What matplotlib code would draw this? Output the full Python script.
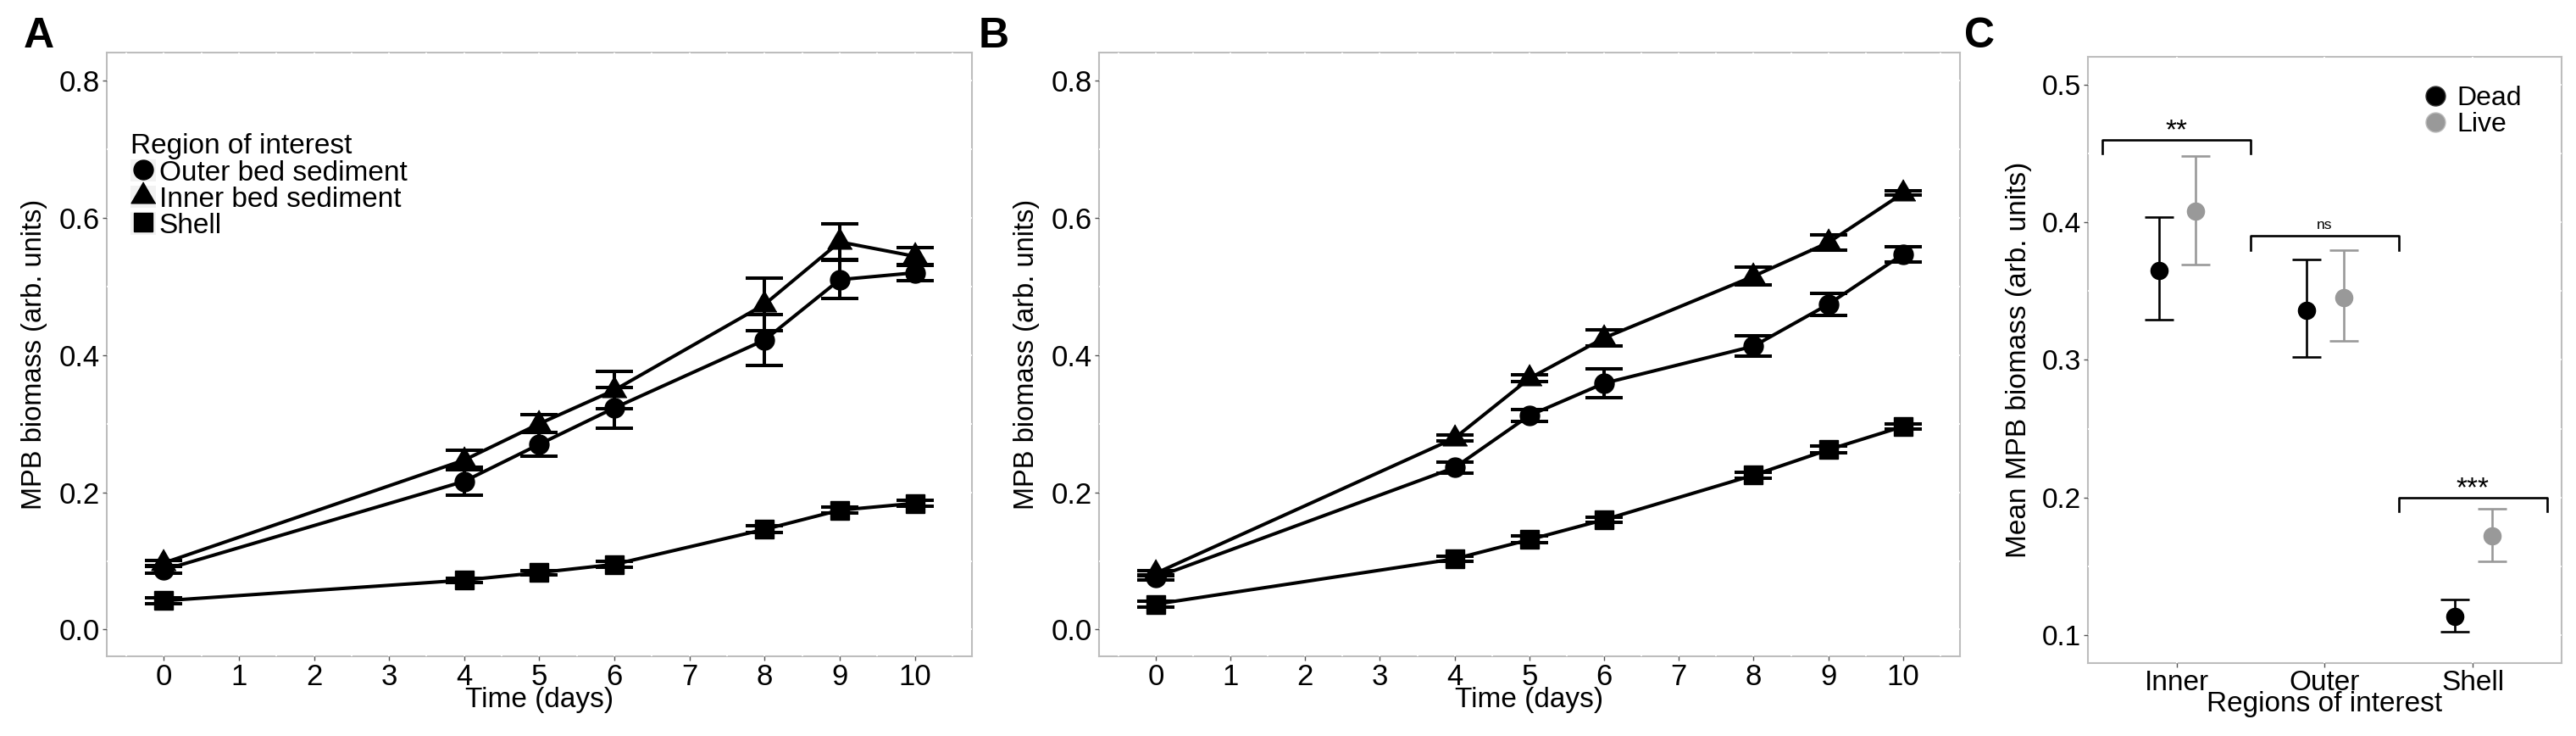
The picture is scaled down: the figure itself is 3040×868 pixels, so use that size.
import numpy as np
import matplotlib.pyplot as plt
from matplotlib.lines import Line2D
from matplotlib.patches import Patch
from matplotlib.ticker import MultipleLocator

plt.rcParams['font.family'] = ['Liberation Sans', 'DejaVu Sans']

days = [0, 4, 5, 6, 8, 9, 10]
region_names = ['Outer bed sediment', 'Inner bed sediment', 'Shell']

# panel A
a_outer = [0.087, 0.216, 0.270, 0.323, 0.422, 0.510, 0.520]
a_outer_se = [0.005, 0.020, 0.017, 0.030, 0.037, 0.028, 0.012]
a_inner = [0.097, 0.247, 0.300, 0.349, 0.474, 0.565, 0.544]
a_inner_se = [0.004, 0.014, 0.013, 0.027, 0.038, 0.026, 0.013]
a_shell = [0.042, 0.072, 0.083, 0.095, 0.146, 0.174, 0.184]
a_shell_se = [0.004, 0.003, 0.003, 0.004, 0.005, 0.004, 0.004]

# panel B
b_outer = [0.076, 0.236, 0.312, 0.359, 0.413, 0.474, 0.547]
b_outer_se = [0.004, 0.008, 0.009, 0.021, 0.015, 0.016, 0.011]
b_inner = [0.082, 0.279, 0.366, 0.425, 0.515, 0.564, 0.636]
b_inner_se = [0.004, 0.004, 0.005, 0.012, 0.013, 0.011, 0.003]
b_shell = [0.037, 0.103, 0.131, 0.160, 0.225, 0.262, 0.296]
b_shell_se = [0.004, 0.004, 0.005, 0.004, 0.004, 0.005, 0.004]

# panel C
c_regions = ['Inner', 'Outer', 'Shell']
c_dead = [0.365, 0.336, 0.114]
c_dead_lo = [0.329, 0.302, 0.103]
c_dead_hi = [0.404, 0.373, 0.126]
c_live = [0.408, 0.345, 0.172]
c_live_lo = [0.369, 0.314, 0.154]
c_live_hi = [0.448, 0.380, 0.192]
sig_labels = ['**', 'ns', '***']
sig_heights = [0.460, 0.390, 0.200]

# equilateral triangle like R's pch 17
tri = [(0, 1), (-0.866, -0.5), (0.866, -0.5)]
markers = ['o', tri, 's']
msizes = [16.5, 24, 16.5]

fig = plt.figure(figsize=(30.4, 8.68), dpi=100)
axA = fig.add_axes([0.0414, 0.1083, 0.3359, 0.8203])
axB = fig.add_axes([0.4266, 0.1083, 0.3342, 0.8203])
axC = fig.add_axes([0.8105, 0.0991, 0.1839, 0.8237])

border = '#bdbdbd'


def style(ax, size):
    # ggplot-like: light grey border, white grid that only shows where it crosses the border
    for s in ax.spines.values():
        s.set_color(border)
        s.set_linewidth(1.5)
        s.set_zorder(0.3)
    ax.set_axisbelow(True)
    ax.grid(True, which='both', color='white', lw=1.3)
    ax.tick_params(which='minor', length=0)
    ax.tick_params(length=3.5, width=1, color='#555555', labelsize=size, pad=2,
                   labelcolor='black')


def timecourse(ax, series, errs):
    for vals, se, m, ms in zip(series, errs, markers, msizes):
        ax.plot(days, vals, color='black', lw=2.9, zorder=2)
        ax.errorbar(days, vals, yerr=se, fmt='none', ecolor='black',
                    elinewidth=2.9, capsize=15.5, capthick=2.9, zorder=3)
        ax.plot(days, vals, ls='none', marker=m, ms=ms, color='black',
                mec='black', zorder=4)
    ax.set_xlim(-0.76, 10.76)
    ax.set_ylim(-0.039, 0.841)
    ax.set_xticks(range(0, 11))
    ax.xaxis.set_minor_locator(MultipleLocator(0.5))
    ax.set_yticks([0.0, 0.2, 0.4, 0.6, 0.8])
    ax.set_yticklabels(['0.0', '0.2', '0.4', '0.6', '0.8'])
    ax.yaxis.set_minor_locator(MultipleLocator(0.1))
    ax.set_xlabel('Time (days)', fontsize=24, labelpad=-3)
    ax.set_ylabel('MPB biomass (arb. units)', fontsize=23.5, labelpad=10)
    style(ax, 25)


timecourse(axA, [a_outer, a_inner, a_shell], [a_outer_se, a_inner_se, a_shell_se])
timecourse(axB, [b_outer, b_inner, b_shell], [b_outer_se, b_inner_se, b_shell_se])

handles = []
for m, ms in zip(markers, msizes):
    key = Patch(facecolor='#f2f2f2', edgecolor='none')
    mk = Line2D([], [], ls='none', marker=m, ms=ms, color='black')
    handles.append((key, mk))
leg = axA.legend(handles, region_names, title='Region of interest',
                 loc='upper left', bbox_to_anchor=(0.028, 0.866),
                 frameon=False, fontsize=24, title_fontsize=24,
                 handlelength=0.9, handleheight=0.85, handletextpad=0.1,
                 labelspacing=-0.02, borderpad=0, borderaxespad=0,
                 alignment='left')

# panel C
xc = np.arange(len(c_regions))
dead = np.array(c_dead)
live = np.array(c_live)
axC.errorbar(xc - 0.12, dead, yerr=[dead - c_dead_lo, np.array(c_dead_hi) - dead],
             fmt='o', color='black', ms=14.5, elinewidth=1.9, capsize=12,
             capthick=1.9, zorder=3)
axC.errorbar(xc + 0.13, live, yerr=[live - c_live_lo, np.array(c_live_hi) - live],
             fmt='o', color='#999999', ms=14.5, elinewidth=1.9, capsize=12,
             capthick=1.9, zorder=3)
for i, (lab, h) in enumerate(zip(sig_labels, sig_heights)):
    axC.plot([i - 0.5, i - 0.5, i + 0.5, i + 0.5], [h - 0.01, h, h, h - 0.01],
             color='black', lw=1.9, zorder=3)
    if lab == 'ns':
        axC.text(i, h + 0.005, lab, ha='center', va='baseline', fontsize=12.5)
    else:
        axC.text(i, h + 0.001, lab, ha='center', va='baseline', fontsize=24)
axC.set_xlim(-0.6, 2.6)
axC.set_ylim(0.08, 0.52)
axC.set_xticks(xc)
axC.set_xticklabels(c_regions)
axC.set_yticks([0.1, 0.2, 0.3, 0.4, 0.5])
axC.yaxis.set_minor_locator(MultipleLocator(0.05))
axC.set_xlabel('Regions of interest', fontsize=24, labelpad=-4)
axC.set_ylabel('Mean MPB biomass (arb. units)', fontsize=24, labelpad=9)
style(axC, 24)
c_handles = [Line2D([], [], ls='none', marker='o', ms=16.5, color='black', mec='#333333'),
             Line2D([], [], ls='none', marker='o', ms=16.5, color='#999999', mec='#bbbbbb')]
axC.legend(c_handles, ['Dead', 'Live'], loc='upper left',
           bbox_to_anchor=(0.71, 0.952), frameon=False, fontsize=23,
           handlelength=0.8, handletextpad=0.4, labelspacing=0.02,
           borderpad=0, borderaxespad=0)

# panel letters
fig.text(0.0092, 0.977, 'A', fontsize=36, fontweight='bold', va='top')
fig.text(0.3799, 0.977, 'B', fontsize=36, fontweight='bold', va='top')
fig.text(0.7625, 0.977, 'C', fontsize=36, fontweight='bold', va='top')

fig.savefig('out.png', dpi=100)
